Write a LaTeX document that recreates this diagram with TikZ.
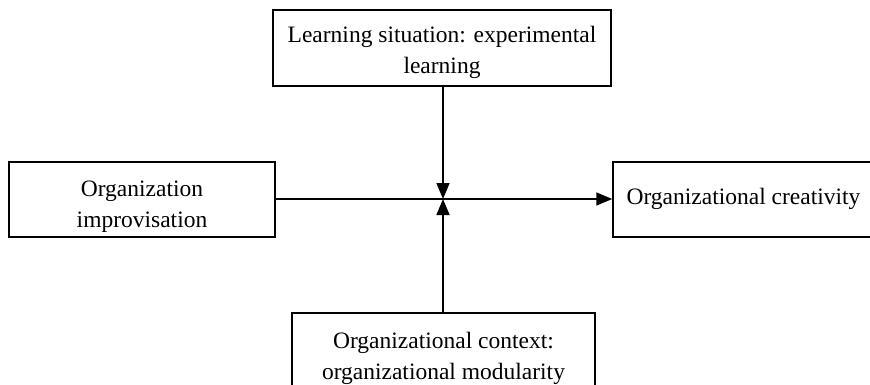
\documentclass[tikz,border=0pt]{standalone}
\usepackage{fontspec}
\setmainfont{Liberation Serif}
\usetikzlibrary{arrows.meta}
\begin{document}
\begin{tikzpicture}[x=1pt,y=-1pt,
  box/.style={draw,line width=1.5pt,inner sep=0pt},
  txt/.style={align=center,inner sep=0pt,font=\fontsize{23.5}{31}\selectfont},
  conn/.style={line width=1.6pt,-{Triangle[length=16pt,width=13pt]}}]
\useasboundingbox (0,0) rectangle (870,385);
\clip (0,0) rectangle (870,385);
\node[box,minimum width=338pt,minimum height=76pt] (top) at (442,48) {};
\node[txt] (toptxt) at ([yshift=-4pt]top.center) {Learning situation: experimental\\learning};
\node[box,minimum width=266pt,minimum height=75pt] (left) at (142,199.5) {};
\node[txt] (lefttxt) at ([yshift=-7pt]left.center) {Organization\\improvisation};
\node[box,minimum width=261pt,minimum height=75pt] (right) at (743.5,199.5) {};
\node[txt] (righttxt) at ([yshift=1pt]right.center) {Organizational creativity};
\node[box,minimum width=303pt,minimum height=84pt] (bot) at (443.5,355) {};
\node[txt] (bottxt) at ([yshift=-3pt]bot.center) {Organizational context:\\organizational modularity};
\coordinate (c) at (443,199);
\draw[conn] (left.east |- c) -- (right.west |- c);
\draw[conn] (top.south -| c) -- (c);
\draw[conn] (bot.north -| c) -- (c);
\end{tikzpicture}
\end{document}
